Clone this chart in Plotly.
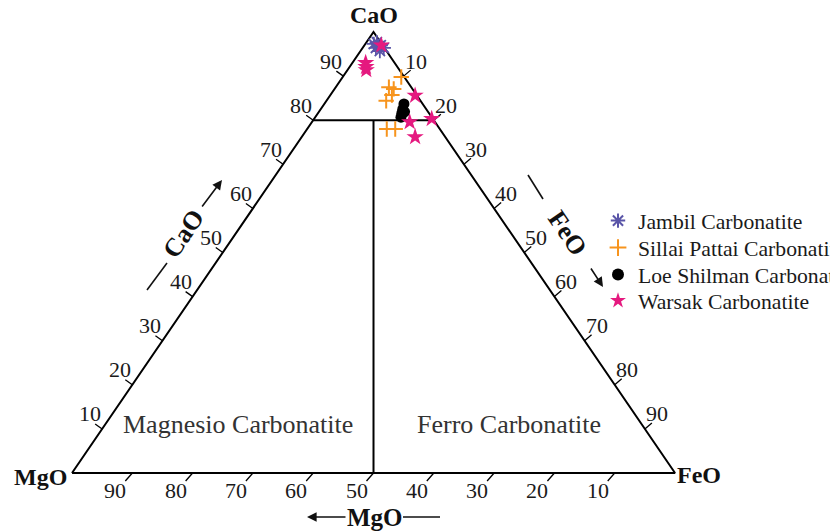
import plotly.graph_objects as go

# ---------------- data (wt. % CaO, MgO, FeO) ----------------
jambil_cao = [97.7, 97.0, 96.4, 95.7, 96.4, 97.3]
jambil_mgo = [0.6, 0.3, 1.4, 1.1, 0.1, 1.3]
jambil_feo = [1.7, 2.7, 2.2, 3.2, 3.5, 1.4]

sillai_cao = [89.8, 87.5, 87.1, 85.7, 84.4, 78.0, 78.0]
sillai_mgo = [0.5, 3.7, 3.1, 4.1, 5.7, 8.8, 7.4]
sillai_feo = [9.7, 8.8, 9.8, 10.2, 9.9, 13.2, 14.6]

loe_cao = [83.7, 82.5, 81.6, 80.7, 81.9]
loe_mgo = [3.1, 3.9, 4.5, 5.1, 3.9]
loe_feo = [13.2, 13.6, 13.9, 14.2, 14.2]

warsak_cao = [97.0, 93.0, 92.1, 91.4, 85.6, 80.3, 79.6, 76.2]
warsak_mgo = [0.2, 4.8, 5.2, 5.5, 0.3, 0.2, 4.2, 5.0]
warsak_feo = [2.8, 2.2, 2.7, 3.1, 14.1, 19.5, 16.2, 18.8]

tick_values = [10, 20, 30, 40, 50, 60, 70, 80, 90]
tick_labels = [str(v) for v in tick_values]

series_names = ["Jambil Carbonatite", "Sillai Pattai Carbonatite",
                "Loe Shilman Carbonatite", "Warsak Carbonatite"]

# ---------------- geometry ----------------
W, H = 830, 531
x_range = [-11.94, 125.70]
y_range = [-13.15, 107.26]
sx = W / (x_range[1] - x_range[0])   # px per unit
sy = H / (y_range[1] - y_range[0])

FONT = "Liberation Serif"


def tern(c, m, f):
    s = c + m + f
    return (f + c / 2.0) / s * 100.0, c / s * 100.0


def tern_list(cs, ms, fs):
    pts = [tern(c, m, f) for c, m, f in zip(cs, ms, fs)]
    return [p[0] for p in pts], [p[1] for p in pts]


def px_off(pt, dx, dy):
    """offset a data point by screen pixels (dy positive = down)"""
    return pt[0] + dx / sx, pt[1] - dy / sy


fig = go.Figure()

# frame
corners = [tern(0, 100, 0), tern(100, 0, 0), tern(0, 0, 100), tern(0, 100, 0)]
fig.add_trace(go.Scatter(x=[p[0] for p in corners], y=[p[1] for p in corners],
                         mode="lines", line=dict(color="black", width=2),
                         showlegend=False, hoverinfo="skip"))
# field boundaries
b1 = [tern(80, 20, 0), tern(80, 0, 20)]
b2 = [tern(80, 10, 10), tern(0, 50, 50)]
bx, by = [], []
for seg in (b1, b2):
    bx += [seg[0][0], seg[1][0], None]
    by += [seg[0][1], seg[1][1], None]
fig.add_trace(go.Scatter(x=bx, y=by, mode="lines", line=dict(color="black", width=2),
                         showlegend=False, hoverinfo="skip"))

# ticks and tick labels
tx, ty = [], []
annotations = []
lab_font = dict(family=FONT, size=22, color="#1a1a1a")
for v, lab in zip(tick_values, tick_labels):
    # left edge: CaO
    p = tern(v, 100 - v, 0)
    q = px_off(p, -7, -5)
    tx += [p[0], q[0], None]; ty += [p[1], q[1], None]
    annotations.append(dict(x=p[0], y=p[1], text=lab, showarrow=False, font=lab_font,
                            xshift=-12, yshift=15))
    # right edge: FeO
    p = tern(100 - v, 0, v)
    q = px_off(p, 7, -6)
    tx += [p[0], q[0], None]; ty += [p[1], q[1], None]
    annotations.append(dict(x=p[0], y=p[1], text=lab, showarrow=False, font=lab_font,
                            xshift=12, yshift=15))
    # bottom edge: MgO
    p = tern(0, v, 100 - v)
    q = px_off(p, -7, 8)
    tx += [p[0], q[0], None]; ty += [p[1], q[1], None]
    annotations.append(dict(x=p[0], y=p[1], text=lab, showarrow=False, font=lab_font,
                            xshift=-17, yshift=-17))
fig.add_trace(go.Scatter(x=tx, y=ty, mode="lines", line=dict(color="black", width=1.3),
                         showlegend=False, hoverinfo="skip"))

# data series
jx, jy = tern_list(jambil_cao, jambil_mgo, jambil_feo)
sxx, syy = tern_list(sillai_cao, sillai_mgo, sillai_feo)
lx, ly = tern_list(loe_cao, loe_mgo, loe_feo)
wx, wy = tern_list(warsak_cao, warsak_mgo, warsak_feo)

fig.add_trace(go.Scatter(x=jx, y=jy, mode="markers", name=series_names[0], legend="legend",
                         marker=dict(symbol="asterisk", size=12, color="#5a55a8",
                                     line=dict(color="#5a55a8", width=1.8))))
fig.add_trace(go.Scatter(x=sxx, y=syy, mode="markers", name=series_names[1], legend="legend2",
                         marker=dict(symbol="cross-thin", size=11, color="#f7941d",
                                     line=dict(color="#f7941d", width=2))))
fig.add_trace(go.Scatter(x=lx, y=ly, mode="markers", name=series_names[2], legend="legend3",
                         marker=dict(symbol="circle", size=11, color="black")))
fig.add_trace(go.Scatter(x=wx, y=wy, mode="markers", name=series_names[3], legend="legend4",
                         marker=dict(symbol="star", size=13, color="#e5197f",
                                     line=dict(width=0))))

# corner labels
corner_font = dict(family=FONT, size=24, color="#111111")
apex = tern(100, 0, 0); mg = tern(0, 100, 0); fe = tern(0, 0, 100)
annotations += [
    dict(x=apex[0], y=apex[1], text="<b>CaO</b>", showarrow=False, font=corner_font, yshift=17),
    dict(x=mg[0], y=mg[1], text="<b>MgO</b>", showarrow=False, font=corner_font, xshift=-32, yshift=-4),
    dict(x=fe[0], y=fe[1], text="<b>FeO</b>", showarrow=False, font=corner_font, xshift=24, yshift=-2),
]

# field names
field_font = dict(family=FONT, size=26, color="#333333")
mpos = tern(11, 67, 22)
fpos = tern(11, 22, 67)
annotations += [
    dict(x=mpos[0], y=mpos[1], text="Magnesio Carbonatite", showarrow=False, font=field_font),
    dict(x=fpos[0], y=fpos[1], text="Ferro Carbonatite", showarrow=False, font=field_font),
]


# axis titles (paper coords from pixel positions)
def P(x, y):
    return x / W, 1 - y / H


title_font = dict(family=FONT, size=26, color="#111111")
c_t = P(184, 234); f_t = P(568, 233); m_t = P(375, 517)
annotations += [
    dict(x=c_t[0], y=c_t[1], xref="paper", yref="paper", text="<b>CaO</b>", textangle=-55.7,
         xanchor="center", yanchor="middle", showarrow=False, font=title_font),
    dict(x=f_t[0], y=f_t[1], xref="paper", yref="paper", text="<b>FeO</b>", textangle=55.7,
         xanchor="center", yanchor="middle", showarrow=False, font=title_font),
    dict(x=m_t[0], y=m_t[1], xref="paper", yref="paper", text="<b>MgO</b>",
         xanchor="center", yanchor="middle", showarrow=False,
         font=dict(family=FONT, size=25, color="#111111")),
]
# arrows
for head, tail in [((222, 180), (201, 208)), ((603, 287), (590, 267)), ((307, 517), (347, 517))]:
    h = P(*head)
    annotations.append(dict(x=h[0], y=h[1], xref="paper", yref="paper", text="",
                            showarrow=True, arrowhead=2, arrowsize=1.2, arrowwidth=1.6,
                            arrowcolor="#111111", ax=tail[0] - head[0], ay=tail[1] - head[1]))
shapes = []
for a, b in [((147, 290), (167, 263)), ((528, 175), (543, 199)), ((403, 517), (440, 517))]:
    pa, pb = P(*a), P(*b)
    shapes.append(dict(type="line", xref="paper", yref="paper", x0=pa[0], y0=pa[1],
                       x1=pb[0], y1=pb[1], line=dict(color="#111111", width=1.6)))

legend_font = dict(family=FONT, size=21.7, color="#1a1a1a")
legend_rows = [221, 248, 275, 301]
legends = {}
for i, yr in enumerate(legend_rows):
    key = "legend" if i == 0 else "legend%d" % (i + 1)
    legends[key] = dict(x=598 / W, y=1 - yr / H, xanchor="left", yanchor="middle",
                        font=legend_font, bgcolor="rgba(0,0,0,0)", itemsizing="constant",
                        borderwidth=0)

fig.update_layout(
    width=W, height=H,
    margin=dict(l=0, r=0, t=0, b=0, autoexpand=False),
    paper_bgcolor="white", plot_bgcolor="white",
    xaxis=dict(range=x_range, visible=False, fixedrange=True),
    yaxis=dict(range=y_range, visible=False, fixedrange=True),
    annotations=annotations, shapes=shapes,
    showlegend=True,
    **legends,
)

fig.write_html("out.html", config={"displayModeBar": False},
               post_script="document.body.style.margin='0px';document.body.style.overflow='hidden';")
